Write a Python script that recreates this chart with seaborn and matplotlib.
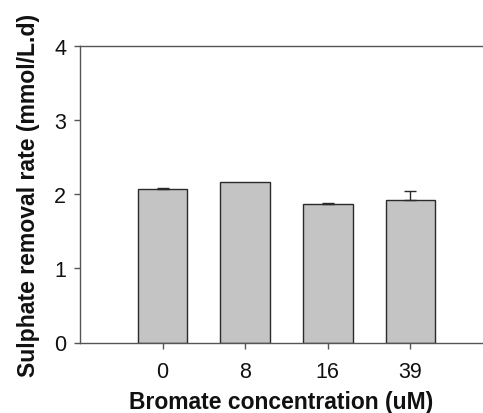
import matplotlib
matplotlib.use("Agg")
import matplotlib.pyplot as plt
import seaborn as sns
import pandas as pd

categories = ["0", "8", "16", "39"]
values = [2.07, 2.17, 1.875, 1.92]
errors = [0.02, 0.0, 0.01, 0.125]
yticks = [0, 1, 2, 3, 4]

sns.set_style("white")
plt.rcParams['font.family'] = ['Liberation Sans', 'DejaVu Sans']

df = pd.DataFrame({"conc": categories, "rate": values})

fig = plt.figure(figsize=(4.83, 4.14), dpi=100)
W, H = 483, 414
ax = fig.add_axes([80 / W, 1 - 343.5 / H, (483 - 80) / W, (343.5 - 47) / H])

sns.barplot(data=df, x="conc", y="rate", color="#c4c4c4", edgecolor="#2a2a2a",
            linewidth=1.0, width=0.6, saturation=1, errorbar=None, ax=ax)
for i, (v, e) in enumerate(zip(values, errors)):
    if e > 0:
        ax.errorbar(i, v, yerr=[[0], [e]], fmt="none", ecolor="#2a2a2a",
                    elinewidth=1.0, capsize=4, capthick=1.0)

ax.set_xlim(-1, 3.88)
ax.set_ylim(0, 4)
ax.set_yticks(yticks)
ax.set_yticklabels([str(t) for t in yticks])
ax.spines["right"].set_visible(False)
for s in ["left", "bottom", "top"]:
    ax.spines[s].set_color("#555555")
    ax.spines[s].set_linewidth(1.0)
ax.tick_params(axis="both", direction="out", length=4, width=1.0, color="#555555",
               labelsize=15.5, labelcolor="#111111", left=True, bottom=True, pad=6)
ax.tick_params(axis="x", pad=9)
ax.set_xlabel("Bromate concentration (uM)", fontsize=16.5, fontweight="bold",
              color="#111111", labelpad=6)
ax.set_ylabel("Sulphate removal rate (mmol/L.d)", fontsize=16.6, fontweight="bold",
              color="#111111", labelpad=10)

fig.savefig("out.png", dpi=100)
